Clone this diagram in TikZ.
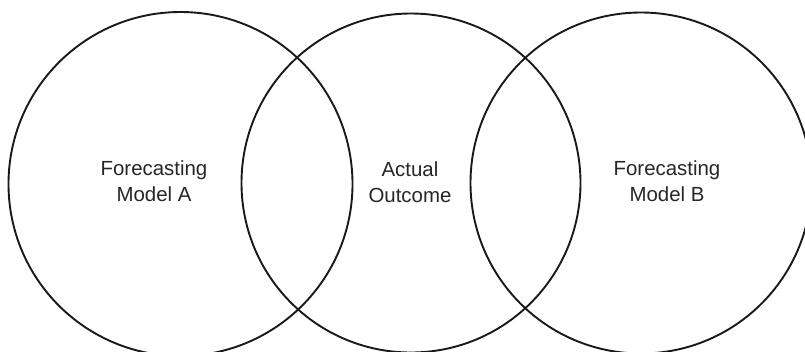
\documentclass[tikz,border=0pt]{standalone}
\usepackage{fontspec}
\setmainfont{Liberation Sans}
\begin{document}
\begin{tikzpicture}[x=1bp,y=-1bp,
  ring/.style={draw=black!90,line width=1.9bp},
  lbl/.style={align=center,font=\fontsize{20.5}{26}\selectfont,inner sep=0pt,text=black!85}]
\useasboundingbox (0,0) rectangle (805,351);
\begin{scope}
\clip (0,0) rectangle (805,351);
\draw[ring] (180.5,184) circle[radius=172];
\draw[ring] (411,183) circle[radius=169.5];
\draw[ring] (641,183) circle[radius=170.5];
\end{scope}
\node[lbl] (a) at (154,181) {Forecasting\\Model A};
\node[lbl] (o) at (410,182) {Actual\\Outcome};
\node[lbl] (b) at (667,181) {Forecasting\\Model B};
\end{tikzpicture}
\end{document}
